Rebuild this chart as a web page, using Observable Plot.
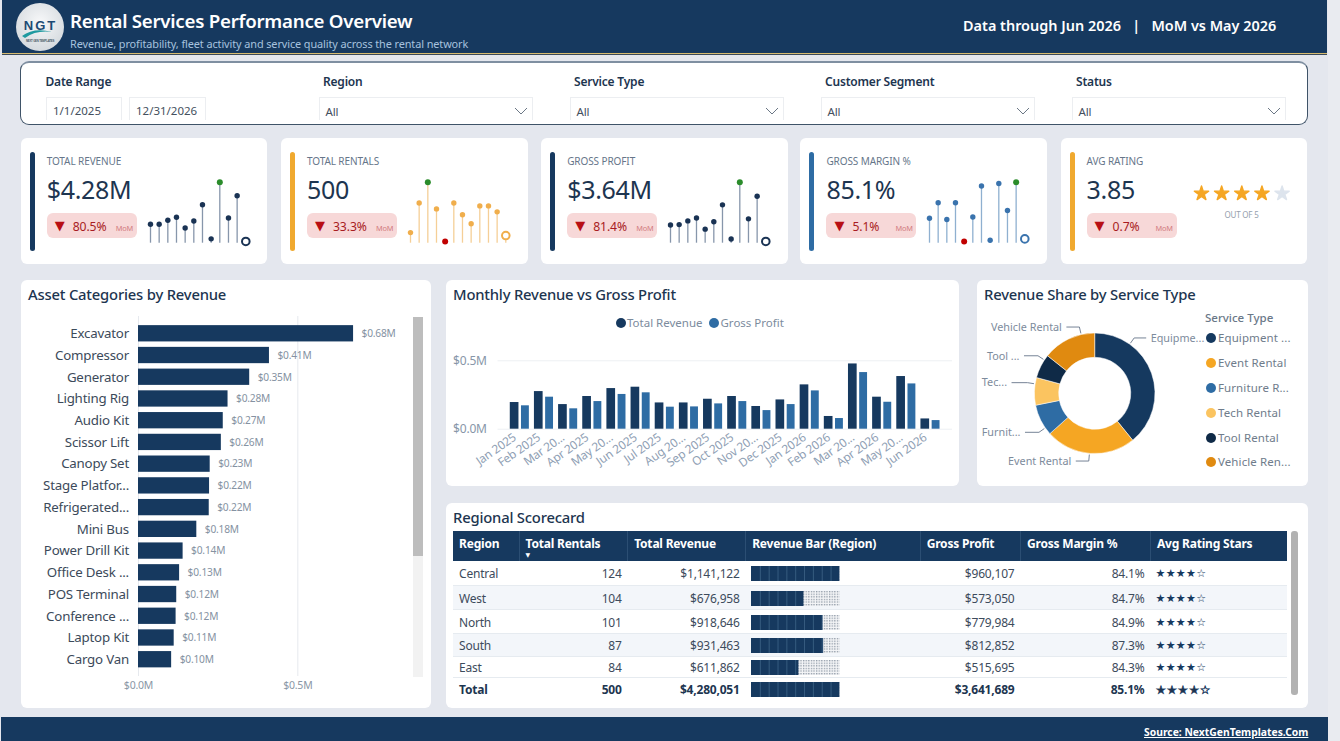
<!DOCTYPE html>
<html>
<head>
<meta charset="utf-8">
<script src="https://cdn.jsdelivr.net/npm/d3@7"></script>
<script src="https://cdn.jsdelivr.net/npm/@observablehq/plot@0.6"></script>
<style>
html,body{margin:0;padding:0;background:#e9ebf0;overflow:hidden}
#page{position:relative;width:1340px;height:741px;overflow:hidden;font-family:"Noto Sans",sans-serif;color:#1d3550;letter-spacing:-.2px}
.abs{position:absolute;white-space:nowrap}
.abs svg{display:block}
.card{position:absolute;background:#fff;border-radius:6px;box-sizing:border-box}
.ctitle{position:absolute;font-size:14.8px;font-weight:500;color:#1d3550;line-height:18px;white-space:nowrap}
.plot{position:absolute}
.plot svg{display:block;overflow:visible;background:transparent}
table{border-collapse:collapse;table-layout:fixed;position:absolute;left:453px;top:531px;width:834px;font-size:12px;color:#3d4b5c}
th{background:#16395f;color:#fff;font-weight:700;text-align:left;height:30px;padding:0 0 6px 6px;box-sizing:border-box;border-left:1px solid #2b4e73;position:relative;vertical-align:middle}
th:first-child{border-left:none}
td{height:24px;padding:2px 6px 0;box-sizing:border-box;border-bottom:1px solid #e6ebf0;text-align:right;white-space:nowrap}
tbody tr:nth-child(4) td{height:23px}
tbody tr:nth-child(5) td{height:21.5px}
tr.alt td{background:#f3f6fa}
td.l{text-align:left}
td.bar{padding:2px 0 0 5px;text-align:left}
td.star{text-align:left;font-family:"DejaVu Sans";font-size:11px;color:#16395f;letter-spacing:.3px;padding-left:5px}
tr.tot td{border-top:1px solid #5d6a78;border-bottom:none;height:20px;padding-top:3px;font-weight:700;color:#1d3550}
tr.tot td.star{font-weight:400;font-size:12px;-webkit-text-stroke:.4px #16395f}
</style>
</head>
<body>
<div id="page"></div>
<script>
// ---------- data ----------
const kpiTitles = ["TOTAL REVENUE","TOTAL RENTALS","GROSS PROFIT","GROSS MARGIN %","AVG RATING"];
const kpiValues = ["$4.28M","500","$3.64M","85.1%","3.85"];
const kpiChanges = ["80.5%","33.3%","81.4%","5.1%","0.7%"];
const sparkMonths = ["Jul 2025","Aug 2025","Sep 2025","Oct 2025","Nov 2025","Dec 2025","Jan 2026","Feb 2026","Mar 2026","Apr 2026","May 2026","Jun 2026"];
const sparkRevenue = [0.192,0.192,0.219,0.239,0.166,0.214,0.324,0.093,0.477,0.234,0.385,0.075];
const sparkRentals = [17,27,34,25,14,27,23,20,26,26,24,16];
const sparkProfit = [0.161,0.163,0.185,0.202,0.136,0.180,0.280,0.078,0.414,0.197,0.331,0.063];
const sparkMargin = [83.9,85.1,83.8,85.1,82.1,84.0,86.4,82.2,86.6,84.5,86.7,82.3];
const ratingStars = [1,2,3,4,5];
const avgRating = 3.85;

const filterLabels = ["Region","Service Type","Customer Segment","Status"];

const assetNames = ["Excavator","Compressor","Generator","Lighting Rig","Audio Kit","Scissor Lift","Canopy Set","Stage Platfor...","Refrigerated...","Mini Bus","Power Drill Kit","Office Desk ...","POS Terminal","Conference ...","Laptop Kit","Cargo Van"];
const assetRevenue = [0.675,0.411,0.349,0.281,0.266,0.260,0.225,0.223,0.222,0.183,0.140,0.129,0.120,0.118,0.112,0.104];

const months = ["Jan 2025","Feb 2025","Mar 2025","Apr 2025","May 2025","Jun 2025","Jul 2025","Aug 2025","Sep 2025","Oct 2025","Nov 2025","Dec 2025","Jan 2026","Feb 2026","Mar 2026","Apr 2026","May 2026","Jun 2026"];
const monthTickLabels = ["Jan 2025","Feb 2025","Mar 20...","Apr 2025","May 20...","Jun 2025","Jul 2025","Aug 20...","Sep 2025","Oct 2025","Nov 20...","Dec 2025","Jan 2026","Feb 2026","Mar 20...","Apr 2026","May 20...","Jun 2026"];
const monthRevenue = [0.195,0.275,0.180,0.239,0.297,0.307,0.192,0.192,0.219,0.239,0.166,0.214,0.324,0.093,0.477,0.234,0.385,0.075];
const monthProfit = [0.171,0.234,0.149,0.202,0.254,0.266,0.161,0.163,0.185,0.202,0.136,0.180,0.280,0.078,0.414,0.197,0.331,0.063];

const serviceTypes = ["Equipment Rental","Event Rental","Furniture Rental","Tech Rental","Tool Rental","Vehicle Rental"];
const serviceShare = [39.2,24.2,8.5,7.4,6.5,14.3];
const serviceLabels = ["Equipme...","Event Rental","Furnit...","Tec...","Tool ...","Vehicle Rental"];
const serviceLegend = ["Equipment ...","Event Rental","Furniture R...","Tech Rental","Tool Rental","Vehicle Ren..."];
const serviceColors = ["#15395f","#f5a623","#2e6ca4","#fbc460","#0f2a47","#e08a10"];

const regions = ["Central","West","North","South","East"];
const regionRentals = [124,104,101,87,84];
const regionRevenue = [1141122,676958,918646,931463,611862];
const regionProfit = [960107,573050,779984,812852,515695];
const regionMargin = [84.1,84.7,84.9,87.3,84.3];
const totalRow = {name:"Total",rentals:500,revenue:4280051,profit:3641689,margin:85.1};
const tableHeaders = ["Region","Total Rentals","Total Revenue","Revenue Bar (Region)","Gross Profit","Gross Margin %","Avg Rating Stars"];

// ---------- helpers ----------
const NAVY="#16395f", FONT='"Noto Sans",sans-serif';
const page=document.getElementById("page");
function box(cls,x,y,w,h,css,html){const d=document.createElement("div");d.className=cls;
  d.style.cssText=`left:${x}px;top:${y}px;`+(w!=null?`width:${w}px;`:"")+(h!=null?`height:${h}px;`:"")+(css||"");
  if(html!=null)d.innerHTML=html;page.appendChild(d);return d;}
function text(x,cy,str,css){return box("abs",x,cy-10,null,20,`line-height:20px;${css||""}`,str);}
function place(plot,x,y){const d=box("plot",x,y);d.appendChild(plot);return d;}
const usdM=d=>"$"+d3.format(".2f")(d)+"M", usd1=d=>"$"+d3.format(".1f")(d)+"M", usd0=d3.format("$,.0f");

// ---------- frame ----------
box("abs",0,0,1328,741,"background:#e4e7ee");
box("abs",2,0,1325,53,"background:#16395f;border-bottom:1.5px solid #d6bb70;box-shadow:0 1px 0 #3b4a58");
box("abs",1,717,1327,24,"background:#16395f");

box("abs",16,3,48,48,"",`<svg width="48" height="48" viewBox="0 0 48 48"><defs><radialGradient id="lg" cx=".5" cy=".4" r=".7"><stop offset="0" stop-color="#f7f8f9"/><stop offset="1" stop-color="#cfd5da"/></radialGradient></defs><circle cx="24" cy="24" r="24" fill="url(#lg)"/><text x="24.5" y="27" text-anchor="middle" font-family="Liberation Sans" font-weight="700" font-size="13" letter-spacing="2" fill="#1c4a74">NGT</text><path d="M6 33 Q18 24 36 29 Q20 27 9 35Z" fill="#1f9aa0"/><text x="24" y="38.5" text-anchor="middle" font-family="Liberation Sans" font-weight="700" font-size="2.8" fill="#4a5a68">NEXT GEN TEMPLATES</text></svg>`);
text(70,20.5,"Rental Services Performance Overview","font-size:18.7px;font-weight:600;color:#fff;letter-spacing:-.25px");
text(70,44,"Revenue, profitability, fleet activity and service quality across the rental network","font-size:10.9px;color:#a6c2de;letter-spacing:-.1px");
text(963,26,"Data through Jun 2026 &nbsp; | &nbsp; MoM vs May 2026","font-size:14.45px;font-weight:600;color:#fff;letter-spacing:0");
text(1144,732,"Source: NextGenTemplates.Com","font-size:10.35px;font-weight:700;color:#fff;text-decoration:underline;letter-spacing:0");

// ---------- filter panel ----------
box("card",20,61,1288,64,"background:#fff;border:1px solid #3f5368;border-top:2px solid #7f8fa1;border-radius:9px");
text(45.5,82,"Date Range","font-size:12px;font-weight:600");
function chev(x){box("abs",x,107,14,8,"",`<svg width="14" height="8"><path d="M1 1 L7 7 L13 1" fill="none" stroke="#6b7785" stroke-width="1"/></svg>`)}
[[45.5,76,"1/1/2025"],[128.5,77,"12/31/2026"]].forEach(([x,w,t])=>{
  box("abs",x,97,w,23,"border:1px solid #eceef1;border-bottom:none;box-sizing:border-box");
  text(x+7.5,110.5,t,"font-size:11.5px;color:#44505e;letter-spacing:0");
});
[323,574,825,1076].forEach((x,i)=>{
  text(x,82,filterLabels[i],"font-size:12px;font-weight:600");
  box("abs",x-4,97,214,23,"border:1px solid #eceef1;border-bottom:none;box-sizing:border-box");
  text(x+2.5,111.5,"All","font-size:11.5px;color:#44505e");
  chev(x+191);
});

// ---------- KPI cards ----------
const kpiX=[20.7,281,541.2,800.4,1060.6], accent=[NAVY,"#f0a92f",NAVY,"#2e6ca4","#f0a92f"];
kpiX.forEach((x,i)=>{
  box("card",x,138,246.5,126,"");
  box("abs",x+9,151.7,5,99,`background:${accent[i]};border-radius:2.5px`);
  text(x+26,161,kpiTitles[i],"font-size:10px;color:#66768a;letter-spacing:-.1px");
  text(x+26,189,kpiValues[i],"font-size:25px;color:#1d3550;letter-spacing:-.3px");
  box("abs",x+26,212.7,90,25.5,"background:#f7d8d8;border-radius:6px");
  text(x+34,226,"▼",'font-family:"DejaVu Sans";font-size:13px;color:#b80f14');
  text(x+52,227,kpiChanges[i],"font-size:12.2px;color:#a81c22;letter-spacing:-.1px");
  text(x+95,228,"MoM","font-size:7.4px;color:#d27b7f");
});
function spark(vals,tone,ruleTone){
  const rows=sparkMonths.map((m,i)=>({m,v:vals[i],i}));
  const max=d3.max(vals),min=d3.min(vals),floor=min-(max-min)*0.029,last=rows[rows.length-1];
  return Plot.plot({width:120,height:80,margin:0,style:{background:"transparent"},
    x:{type:"point",domain:sparkMonths,range:[9,104.3],padding:0,round:false,axis:null},
    y:{domain:[floor,max],range:[72.7,11.7],axis:null},
    marks:[
      Plot.ruleX(rows,{x:"m",y1:floor,y2:"v",stroke:ruleTone,strokeWidth:1.3}),
      Plot.dot(rows.filter(d=>d.v!==max&&d.v!==min&&d!==last),{x:"m",y:"v",r:2.7,fill:tone}),
      Plot.dot(rows.filter(d=>d.v===max),{x:"m",y:"v",r:3,fill:"#2b8c2b"}),
      Plot.dot(rows.filter(d=>d.v===min&&d!==last),{x:"m",y:"v",r:3,fill:"#c00000"}),
      Plot.dot([last],{x:"m",y:"v",r:3.8,fill:"#fff",stroke:tone,strokeWidth:2})
    ]});
}
place(spark(sparkRevenue,"#1a3354","#8796ab"),kpiX[0]+120,170);
place(spark(sparkRentals,"#f0ae4c","#f5cf97"),kpiX[1]+120,170);
place(spark(sparkProfit,"#1a3354","#8796ab"),kpiX[2]+120,170);
place(spark(sparkMargin,"#3a73ad","#8fb0d0"),kpiX[3]+120,170);
place(Plot.plot({width:110,height:26,margin:0,style:{background:"transparent"},
  x:{type:"point",domain:ratingStars,range:[9,89.6],padding:0,round:false,axis:null},y:{axis:null,domain:[0,1]},
  marks:[Plot.dot(ratingStars,{x:d=>d,y:()=>0.5,symbol:"star",r:4.5,stroke:d=>d<=Math.round(avgRating)?"#f5a623":"#dde4ed",strokeWidth:1.4,strokeLinejoin:"round",fill:d=>d<=Math.round(avgRating)?"#f5a623":"#dde4ed"})]}),1191.5,180);
text(1224.5,215,"OUT OF 5","font-size:8px;color:#95a0ad;letter-spacing:-.2px");

// ---------- Asset categories ----------
box("card",21,280,409.5,428,"");
box("ctitle",28,285,null,null,"","Asset Categories by Revenue");
box("abs",413,317,10,359.7,"background:#f2f2f2");
box("abs",413,317,10,239,"background:#bdbdbd");
const assetRows=assetNames.map((n,i)=>({n,v:assetRevenue[i]}));
place(Plot.plot({width:392,height:390,marginLeft:117,marginTop:6,marginBottom:24,marginRight:20,style:{background:"transparent",fontFamily:FONT},
  x:{domain:[0,0.8],range:[117,117+254.9],axis:null},
  y:{type:"band",domain:assetNames,range:[9.7,362.8],padding:0.25,round:false,axis:null},
  marks:[
    Plot.ruleX([0,0.5],{stroke:"#e6e9ee",strokeWidth:1}),
    Plot.barX(assetRows,{x:"v",y:"n",fill:NAVY}),
    Plot.text(assetRows,{x:"v",y:"n",text:d=>usdM(d.v),textAnchor:"start",dx:8,fontSize:10.2,fill:"#8592a2"}),
    Plot.axisY({tickSize:0,tickPadding:9.5,fontSize:13.3,fill:"#3c4a5a",label:null}),
    Plot.axisX({anchor:"bottom",ticks:[0,0.5],tickSize:0,tickPadding:5,tickFormat:usd1,fontSize:10.5,fill:"#8a97a6",label:null})
  ]}),21,310);

// ---------- Monthly ----------
box("card",446,280,513,206,"");
box("ctitle",453,285,null,null,"","Monthly Revenue vs Gross Profit");
[[620.5,NAVY,"Total Revenue"],[714,"#2e6ca4","Gross Profit"]].forEach(([x,c,t])=>{
  box("abs",x-5,318,10,10,`background:${c};border-radius:50%`);
  text(x+6.5,323,t,"font-size:11.5px;color:#7c8b9d;letter-spacing:0");
});
const monthRows=months.map((m,i)=>({m,r:monthRevenue[i],g:monthProfit[i]}));
const labelOf=Object.fromEntries(months.map((m,i)=>[m,monthTickLabels[i]]));
place(Plot.plot({width:513,height:130,marginLeft:40.3,marginTop:10.3,marginRight:7,marginBottom:51.3,style:{background:"transparent",fontFamily:FONT},
  x:{type:"band",domain:months,range:[58.7,498.6],padding:0.21,round:false,axis:null},
  y:{domain:[0,0.5],range:[78.7,10.3],axis:null},
  marks:[
    Plot.ruleY([0,0.5],{insetLeft:11.2,stroke:"#edf0f3",strokeWidth:1}),
    Plot.barY(monthRows,{x:"m",y:"r",fill:NAVY,insetRight:10.4}),
    Plot.barY(monthRows,{x:"m",y:"g",fill:"#2e6ca4",insetLeft:11.2}),
    Plot.axisY({ticks:[0,0.5],tickSize:0,tickPadding:0,tickFormat:usd1,fontSize:12,fill:"#8796a8",label:null}),
    Plot.axisX({anchor:"bottom",tickSize:0,tickPadding:6,tickRotate:-35,tickFormat:d=>labelOf[d],fontSize:11.8,fill:"#8fa0b4",label:null,dx:-5,dy:1})
  ]}),446,350);

// ---------- Donut ----------
box("card",977,280,331,206,"");
box("ctitle",984,285,null,null,"","Revenue Share by Service Type");
const serviceRows=serviceTypes.map((t,i)=>({t,v:serviceShare[i],label:serviceLabels[i]}));
const leaderAngles=[35.5,185,235,279,303.5,347];
function donutMark(index,scales){
  const cx=117.7,cy=93.3,R=60.3,r0=36;
  const g=d3.create("svg:g");
  const root=g.append("g").attr("transform",`translate(${cx},${cy})`);
  const pie=d3.pie().sort(null).value(d=>d.v)(serviceRows);
  const arc=d3.arc().innerRadius(r0).outerRadius(R);
  root.selectAll("path.s").data(pie).join("path").attr("class","s").attr("d",arc)
    .attr("fill",d=>scales.color(d.data.t)).attr("stroke","#fff").attr("stroke-width",0.5);
  serviceRows.forEach((d,i)=>{
    const a=leaderAngles[i]*Math.PI/180, sx=Math.sin(a), sy=-Math.cos(a);
    const dir=i==0?1:-1, ex=sx*68, ey=sy*68;
    const tx=i==1?ex-13:ex+dir*(i==0?12:i==5?13:i==3?16:14);
    root.append("path").attr("d",`M${sx*61.5},${sy*61.5}L${ex},${ey}L${tx},${ey}`)
      .attr("fill","none").attr("stroke","#66758a").attr("stroke-width",0.9);
    root.append("text").attr("x",tx+dir*4.5).attr("y",ey).attr("dy","0.35em")
      .attr("text-anchor",dir>0?"start":"end").attr("font-size",10.8).attr("letter-spacing",0).attr("fill","#7d8b9c").text(d.label);
  });
  return g.node();
}
place(Plot.plot({width:231,height:186,margin:0,style:{background:"transparent",fontFamily:FONT},
  x:{axis:null,domain:[0,1]},y:{axis:null,domain:[0,1]},
  color:{domain:serviceTypes,range:serviceColors},
  marks:[Plot.dot(serviceRows,{x:()=>0.5,y:()=>0.5,fill:"t",r:0}),donutMark]}),977,300);
text(1205,318,"Service Type","font-size:11.5px;font-weight:500;color:#6a7888;letter-spacing:0");
serviceLegend.forEach((t,i)=>{
  const y=337.7+i*24.95;
  box("abs",1205.7,y-5,10,10,`background:${serviceColors[i]};border-radius:50%`);
  text(1218,y,t,"font-size:11.5px;color:#6f7c8b;letter-spacing:.1px");
});

// ---------- Scorecard ----------
box("card",446,503,862,205,"");
box("ctitle",453,508,null,null,"","Regional Scorecard");
box("abs",1291,531,7,164,"background:#b2b2b2;border-radius:3px");
const colW=[66,108.7,118,174.5,100.3,130,136.5];
const tbl=document.createElement("table");
tbl.innerHTML=`<colgroup>${colW.map(w=>`<col style="width:${w}px">`).join("")}</colgroup>
<thead><tr>${tableHeaders.map((h,i)=>`<th>${h}${i==1?'<span style="position:absolute;left:6px;top:20px;font-size:6px;font-family:DejaVu Sans">▼</span>':""}</th>`).join("")}</tr></thead>`;
const tb=document.createElement("tbody");tbl.appendChild(tb);
const maxRev=d3.max(regionRevenue);
function revBar(v,full){
  return Plot.plot({width:90,height:15,margin:0,style:{background:"transparent",display:"block"},
    x:{domain:[0,full],range:[0,88.4],axis:null},y:{axis:null,domain:[0,1]},
    marks:[
      ()=>{const s=d3.create("svg:defs");const p=s.append("pattern").attr("id","dots").attr("width",2.6).attr("height",2.6).attr("patternUnits","userSpaceOnUse");
        p.append("rect").attr("width",2.6).attr("height",2.6).attr("fill","#f4f5f7");p.append("rect").attr("width",1.3).attr("height",1.3).attr("fill","#8e99a6");return s.node();},
      Plot.rectX([0],{x1:()=>0,x2:()=>full,y1:0,y2:1,fill:"url(#dots)"}),
      Plot.rectX([0],{x1:()=>0,x2:()=>v,y1:0,y2:1,fill:NAVY}),
      Plot.ruleX(d3.range(1,10).map(k=>k*full/10).filter(k=>k<v),{stroke:"#3f6488",strokeWidth:.8})
    ]});
}
function addRow(name,rent,rev,prof,marg,stars,cls,full){
  const tr=document.createElement("tr");if(cls)tr.className=cls;
  tr.innerHTML=`<td class="l">${name}</td><td>${rent}</td><td>${usd0(rev)}</td><td class="bar"></td><td>${usd0(prof)}</td><td>${marg.toFixed(1)}%</td><td class="star">${stars}</td>`;
  tr.querySelector(".bar").appendChild(revBar(rev,full));tb.appendChild(tr);
}
regions.forEach((r,i)=>addRow(r,regionRentals[i],regionRevenue[i],regionProfit[i],regionMargin[i],"★★★★☆",i%2?"alt":"",maxRev));
addRow(totalRow.name,totalRow.rentals,totalRow.revenue,totalRow.profit,totalRow.margin,"★★★★☆","tot",totalRow.revenue);
page.appendChild(tbl);
</script>
</body>
</html>
